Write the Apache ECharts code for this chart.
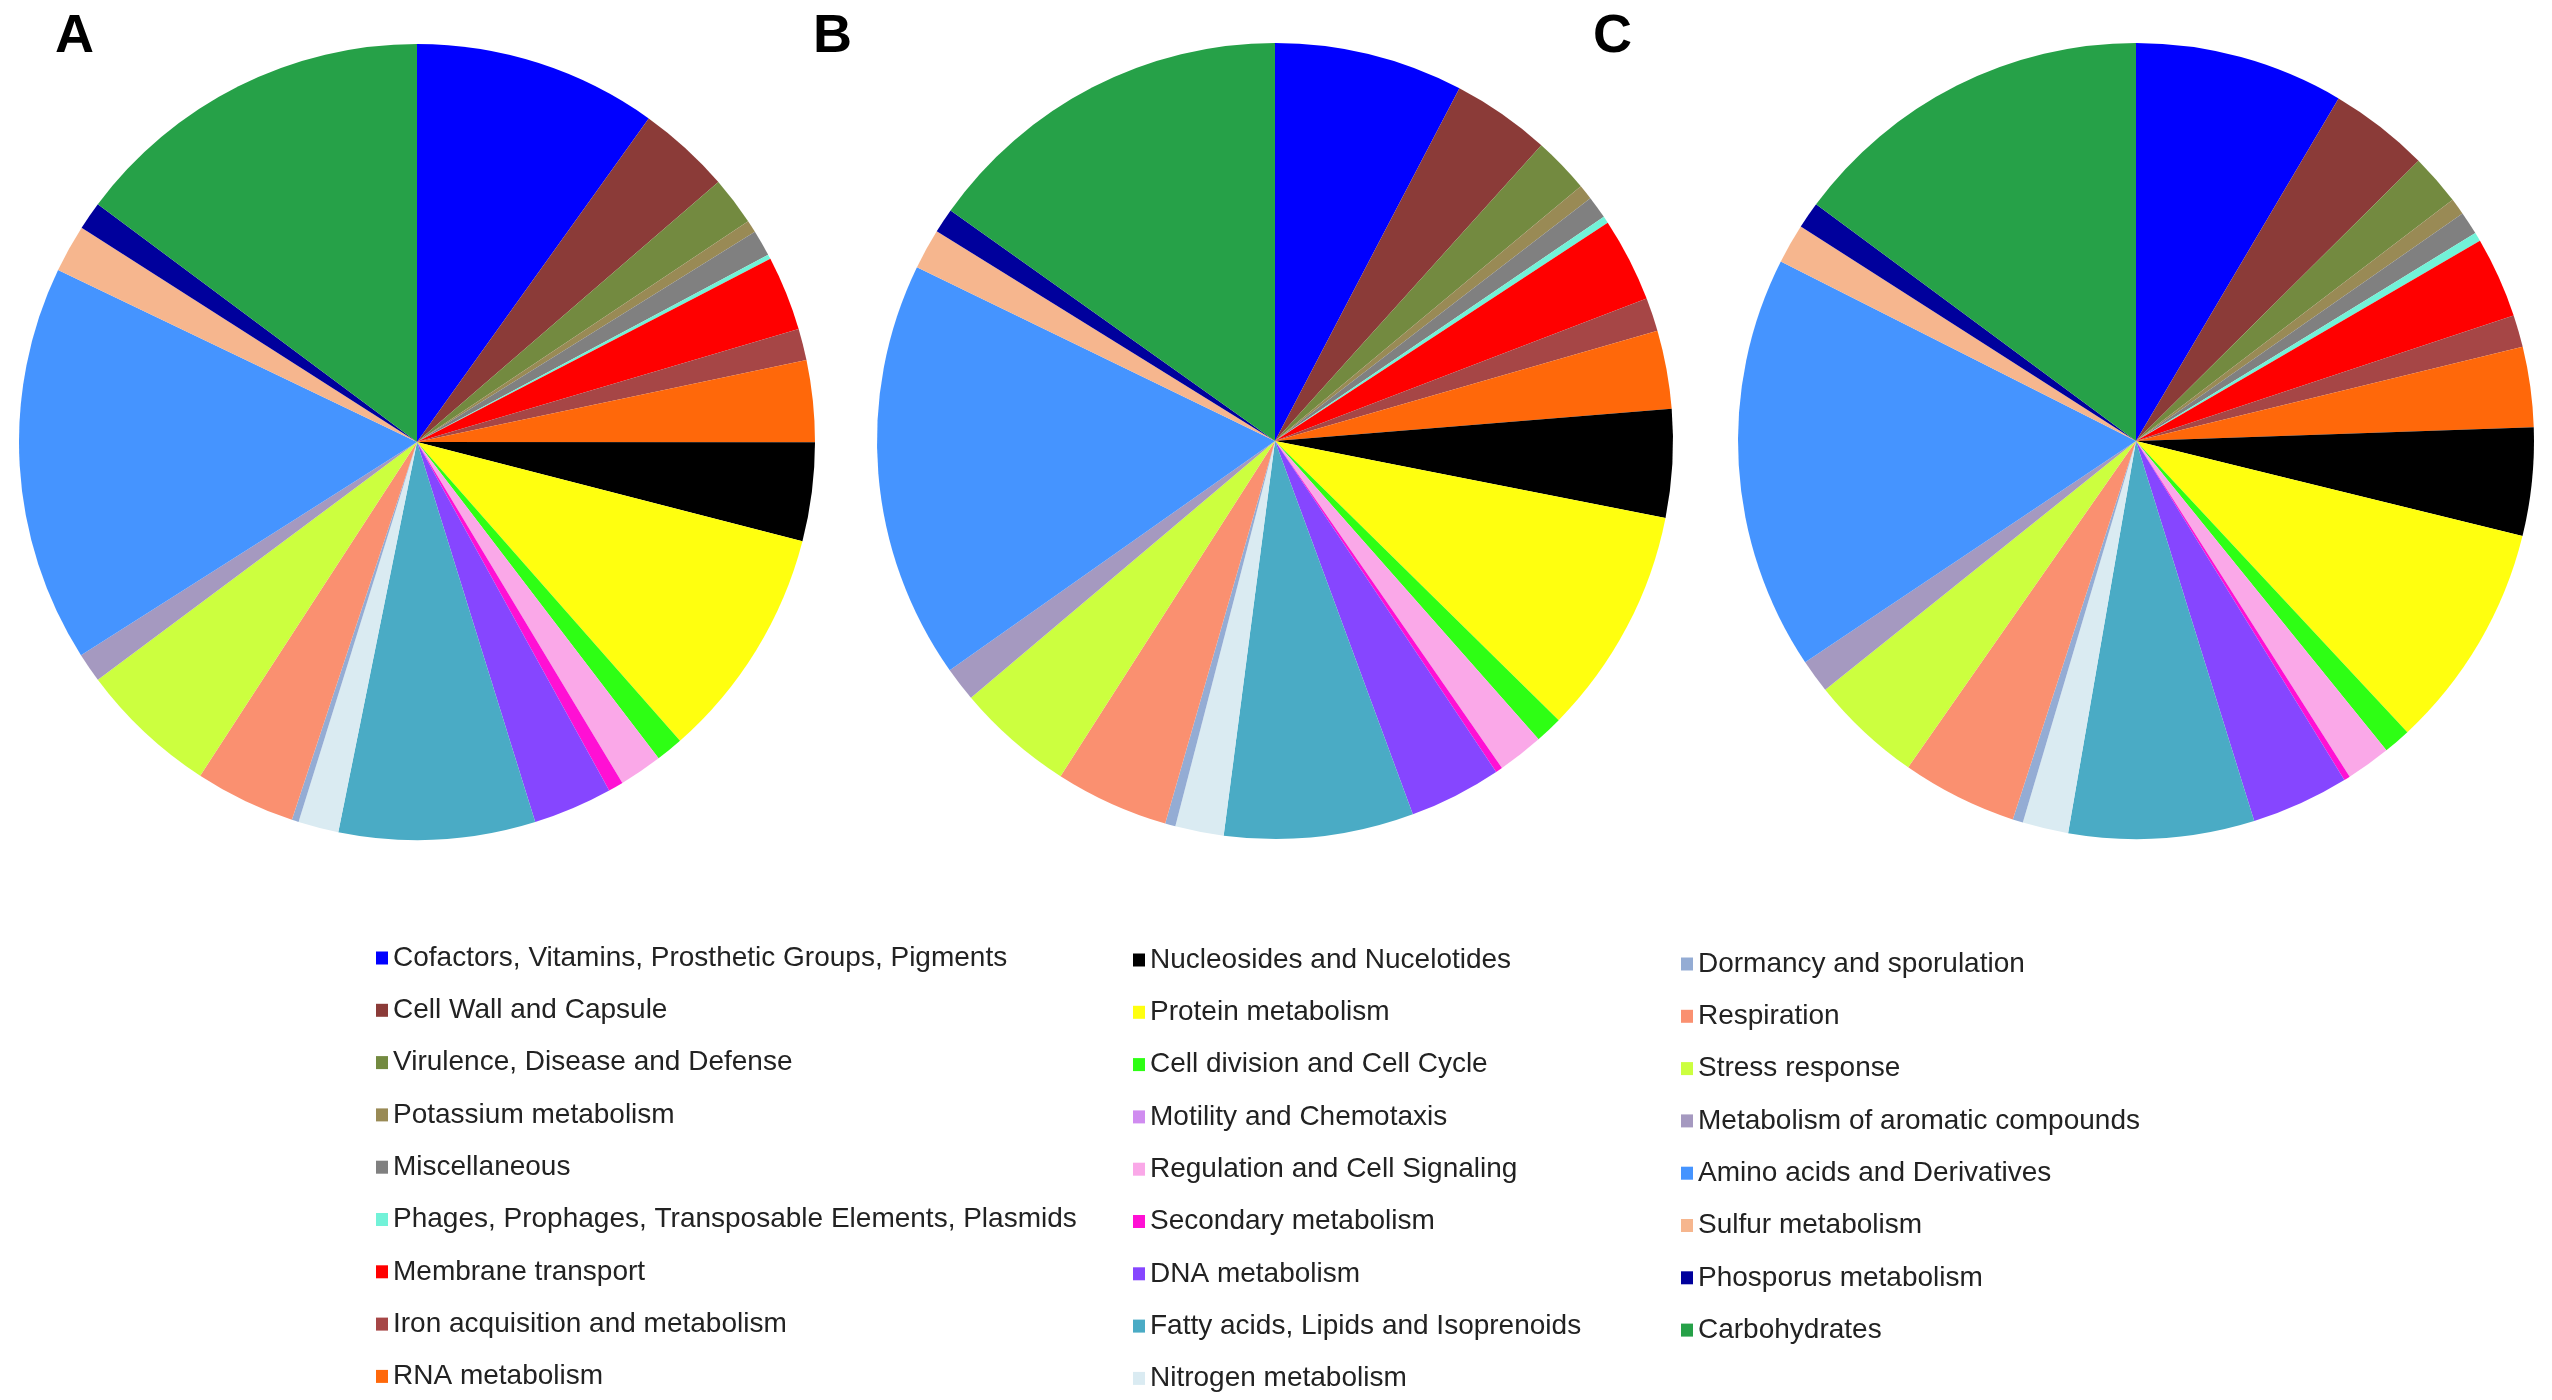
<!DOCTYPE html>
<html>
<head>
<meta charset="utf-8">
<script src="https://cdn.jsdelivr.net/npm/echarts@6/dist/echarts.min.js"></script>
<style>
html,body{margin:0;padding:0;background:#fff;}
#main{width:2552px;height:1400px;}
</style>
</head>
<body>
<div id="main"></div>
<script>
// Categories (clockwise from 12 o'clock)
var categories = [
  'Cofactors, Vitamins, Prosthetic Groups, Pigments',
  'Cell Wall and Capsule',
  'Virulence, Disease and Defense',
  'Potassium metabolism',
  'Miscellaneous',
  'Phages, Prophages, Transposable Elements, Plasmids',
  'Membrane transport',
  'Iron acquisition and metabolism',
  'RNA metabolism',
  'Nucleosides and Nucelotides',
  'Protein metabolism',
  'Cell division and Cell Cycle',
  'Motility and Chemotaxis',
  'Regulation and Cell Signaling',
  'Secondary metabolism',
  'DNA metabolism',
  'Fatty acids, Lipids and Isoprenoids',
  'Nitrogen metabolism',
  'Dormancy and sporulation',
  'Respiration',
  'Stress response',
  'Metabolism of aromatic compounds',
  'Amino acids and Derivatives',
  'Sulfur metabolism',
  'Phosporus metabolism',
  'Carbohydrates'
];

var colors = [
  '#0000FF', '#8B3B38', '#738A40', '#998A55', '#808080', '#72F2D8',
  '#FF0000', '#A64646', '#FF680A', '#000000', '#FFFF0F', '#2EFF14',
  '#D08CF0', '#FAA8E8', '#FF10D4', '#8646FF', '#4AABC5', '#DAEBF2',
  '#94ACD4', '#FA9070', '#CCFF3F', '#A599C0', '#4594FF', '#F6B68E',
  '#00009C', '#26A148'
];

// Percent of subsystem features, panels A, B, C
var valuesA = [9.89, 3.78, 1.97, 0.50, 1.06, 0.19, 3.03, 1.28, 3.31, 4.00, 9.50, 1.11, 0,
               1.75, 0.61, 3.22, 7.97, 1.64, 0.28, 4.08, 5.64, 1.19, 16.11, 1.94, 1.14, 14.81];
var valuesB = [7.67, 4.00, 2.28, 0.61, 0.92, 0.28, 3.42, 1.36, 3.17, 4.39, 9.28, 1.11, 0,
               1.86, 0.28, 3.75, 7.69, 1.97, 0.42, 4.61, 4.78, 1.39, 16.97, 1.64, 1.00, 15.17];
var valuesC = [8.50, 4.06, 2.08, 0.67, 0.94, 0.36, 3.28, 1.31, 3.25, 4.39, 9.22, 1.11, 0,
               1.81, 0.25, 3.97, 7.53, 1.86, 0.42, 4.69, 4.56, 1.36, 16.83, 1.61, 1.08, 14.86];

var panelLabels = ['A', 'B', 'C'];

var legendCol1 = categories.slice(0, 9);
var legendCol2 = categories.slice(9, 18);
var legendCol3 = categories.slice(18, 26);

function buildData(vals) {
  return categories.map(function (c, i) {
    return { name: c, value: vals[i], itemStyle: { color: colors[i] } };
  });
}

var centers = [[417, 442], [1275, 441], [2136, 441]];
var radius = 398;

function pieSeries(name, vals, center) {
  return {
    name: name,
    type: 'pie',
    center: center,
    radius: radius,
    startAngle: 90,
    clockwise: true,
    avoidLabelOverlap: false,
    label: { show: false },
    labelLine: { show: false },
    emphasis: { disabled: true },
    itemStyle: { borderWidth: 0 },
    data: buildData(vals)
  };
}

var legendText = { fontFamily: 'Liberation Sans, Arial, sans-serif', fontSize: 28, color: '#222' };

function legendCol(data, left, top) {
  return {
    orient: 'vertical',
    left: left,
    top: top,
    height: 1400 - top,
    padding: 0,
    icon: 'rect',
    itemWidth: 12,
    itemHeight: 13,
    itemGap: 24.3,
    selectedMode: false,
    textStyle: legendText,
    data: data
  };
}

var chart = echarts.init(document.getElementById('main'));
chart.setOption({
  animation: false,
  backgroundColor: '#fff',
  legend: [
    legendCol(legendCol1, 376, 944),
    legendCol(legendCol2, 1133, 946),
    legendCol(legendCol3, 1681, 950)
  ],
  graphic: [
    { type: 'text', left: 55, top: 10, style: { text: panelLabels[0], font: 'bold 54px "Liberation Sans", Arial, sans-serif', fill: '#000' } },
    { type: 'text', left: 813, top: 10, style: { text: panelLabels[1], font: 'bold 54px "Liberation Sans", Arial, sans-serif', fill: '#000' } },
    { type: 'text', left: 1593, top: 10, style: { text: panelLabels[2], font: 'bold 54px "Liberation Sans", Arial, sans-serif', fill: '#000' } }
  ],
  series: [
    pieSeries('A', valuesA, centers[0]),
    pieSeries('B', valuesB, centers[1]),
    pieSeries('C', valuesC, centers[2])
  ]
});
</script>
</body>
</html>
